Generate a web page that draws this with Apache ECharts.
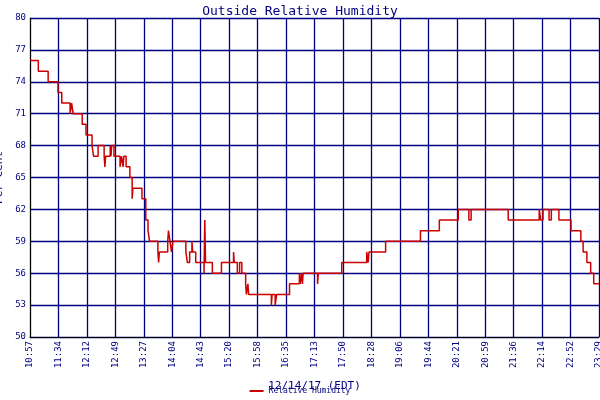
<!DOCTYPE html>
<html><head><meta charset="utf-8">
<script src="https://cdn.jsdelivr.net/npm/echarts@6/dist/echarts.min.js"></script>
<style>html,body{margin:0;padding:0;background:#fff}#c{width:600px;height:400px}</style>
</head><body><div id="c"></div>
<script>
const tickLabels=["10:57","11:34","12:12","12:49","13:27","14:04","14:43","15:20","15:58","16:35","17:13","17:50","18:28","19:06","19:44","20:21","20:59","21:36","22:14","22:52","23:29"];
const minutes=[0,11,24,37,42,53,55,57,69,74,82,84,90,98,99,100,106,107,108,111,119,121,123,124,127,132,135,136,148,153,156,158,169,170,171,182,183,185,187,189,206,208,211,214,215,219,230,231,232,241,253,269,270,274,277,280,285,286,288,289,319,320,324,326,343,356,357,359,360,361,380,381,412,445,447,448,470,516,541,566,580,583,632,673,675,678,686,689,699,715,728,731,736,741,745,752];
const humidity=[76,75,74,73,72,71,72,71,70,69,68,67,68,67,66,67,68,67,68,67,66,67,66,67,66,65,63,64,63,61,60,59,58,57,58,59,60,59,58,59,58,57,58,59,58,57,56,61,57,56,57,58,57,56,57,56,55,54,55,54,53,54,53,54,55,56,55,56,55,56,55,56,57,58,57,58,59,60,61,62,61,62,61,62,61,62,61,62,61,60,59,58,57,56,55,55];
const step=752/20;
const navy='#000080';
const f='DejaVu Sans Mono';
const chart=echarts.init(document.getElementById('c'));
chart.setOption({
 animation:false,
 title:{text:'Outside Relative Humidity',left:'center',top:0,textStyle:{fontFamily:f,fontSize:13,fontWeight:'normal',color:navy}},
 grid:{left:30,right:1,top:18,bottom:63,containLabel:false,outerBoundsMode:'none'},
 legend:{bottom:0,left:'center',itemWidth:14,itemHeight:2,icon:'rect',textStyle:{fontFamily:f,fontSize:8,color:navy},data:['Relative Humidity']},
 xAxis:{type:'value',min:0,max:752,interval:step,
  name:'12/14/17 (EDT)',nameLocation:'middle',nameGap:44,nameTextStyle:{fontFamily:f,fontSize:11,color:navy},
  axisLine:{lineStyle:{color:'#000',width:1}},axisTick:{show:false},
  splitLine:{lineStyle:{color:navy,width:1.3}},
  axisLabel:{rotate:90,fontFamily:f,fontSize:9,color:navy,margin:4,showMaxLabel:true,
   formatter:v=>tickLabels[Math.round(v/step)]||''}},
 yAxis:{type:'value',min:50,max:80,interval:3,
  name:'Per Cent',nameLocation:'middle',nameGap:20,nameTextStyle:{fontFamily:f,fontSize:11,color:navy},
  axisLine:{show:true,lineStyle:{color:'#000'}},axisTick:{show:false},
  splitLine:{lineStyle:{color:navy,width:1.3}},
  axisLabel:{fontFamily:f,fontSize:9,color:navy,margin:4}},
 series:[{name:'Relative Humidity',type:'line',step:'end',showSymbol:false,
  lineStyle:{color:'#cc0000',width:1.5},itemStyle:{color:'#cc0000'},
  data:minutes.map((m,i)=>[m,humidity[i]])}]
});
</script></body></html>
